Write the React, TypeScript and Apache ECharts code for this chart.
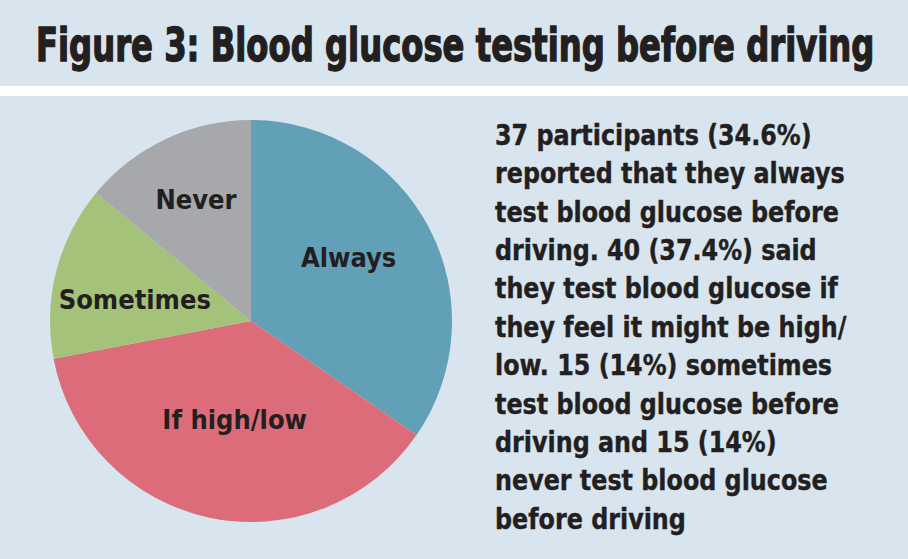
import React, { useEffect, useRef } from "react";
import * as echarts from "echarts";

const titleText = "Figure 3: Blood glucose testing before driving";
const categories = ["Always", "If high/low", "Sometimes", "Never"];
const values = [34.6, 37.4, 14, 14];
const colors = ["#62a0b7", "#dd6c7a", "#a5c27a", "#a6a8ab"];
const labelOffsets = [[6, -15], [5, -3], [-16, 4], [-11, -28]];
const noteLines = [
  "37 participants (34.6%)",
  "reported that they always",
  "test blood glucose before",
  "driving. 40 (37.4%) said",
  "they test blood glucose if",
  "they feel it might be high/",
  "low. 15 (14%) sometimes",
  "test blood glucose before",
  "driving and 15 (14%)",
  "never test blood glucose",
  "before driving",
];

const FONT = "'DejaVu Sans Condensed', 'Liberation Sans Narrow', 'Roboto', sans-serif";

function measure(text: string, font: string): number {
  const c = document.createElement("canvas").getContext("2d");
  if (!c) return 1;
  c.font = font;
  return c.measureText(text).width || 1;
}

export default function App() {
  const ref = useRef<HTMLDivElement>(null);
  useEffect(() => {
    if (!ref.current) return;
    const chart = echarts.init(ref.current, undefined, { renderer: "svg" });
    const titleFont = `bold 47px ${FONT}`;
    const noteFont = `bold 28px ${FONT}`;
    const titleScale = 838 / measure(titleText, titleFont);
    const noteScale = 344 / measure("test blood glucose before", noteFont);
    const graphics: any[] = [
      { type: "rect", z: -10, shape: { x: 0, y: 0, width: 908, height: 559 }, style: { fill: "#d8e5ee" } },
      { type: "rect", z: -9, shape: { x: 0, y: 86, width: 908, height: 10 }, style: { fill: "#ffffff" } },
      {
        type: "text",
        x: 36,
        y: 45,
        scaleX: titleScale,
        style: {
          text: titleText,
          fill: "#231f20",
          stroke: "#231f20",
          lineWidth: 1.4,
          font: titleFont,
          verticalAlign: "middle",
          align: "left",
        },
      },
    ];
    noteLines.forEach((line, i) => {
      graphics.push({
        type: "text",
        x: 495,
        y: 135 + i * 38.4,
        scaleX: noteScale,
        style: {
          text: line,
          fill: "#231f20",
          stroke: "#231f20",
          lineWidth: 0.4,
          font: noteFont,
          verticalAlign: "middle",
          align: "left",
        },
      });
    });
    chart.setOption({
      animation: false,
      graphic: graphics,
      series: [
        {
          type: "pie",
          center: [251, 321],
          radius: [0, 201],
          startAngle: 90,
          clockwise: true,
          silent: true,
          label: {
            show: true,
            position: "inside",
            fontFamily: FONT,
            fontWeight: "bold",
            fontSize: 27,
            color: "#231f20",
            formatter: "{b}",
          },
          labelLine: { show: false },
          itemStyle: { borderWidth: 0 },
          data: categories.map((c, i) => ({
            name: c,
            value: values[i],
            itemStyle: { color: colors[i] },
            label: { offset: labelOffsets[i] },
          })),
        },
      ],
    });
    return () => chart.dispose();
  }, []);
  return <div ref={ref} style={{ position: "absolute", left: 0, top: 0, width: 908, height: 559 }} />;
}
